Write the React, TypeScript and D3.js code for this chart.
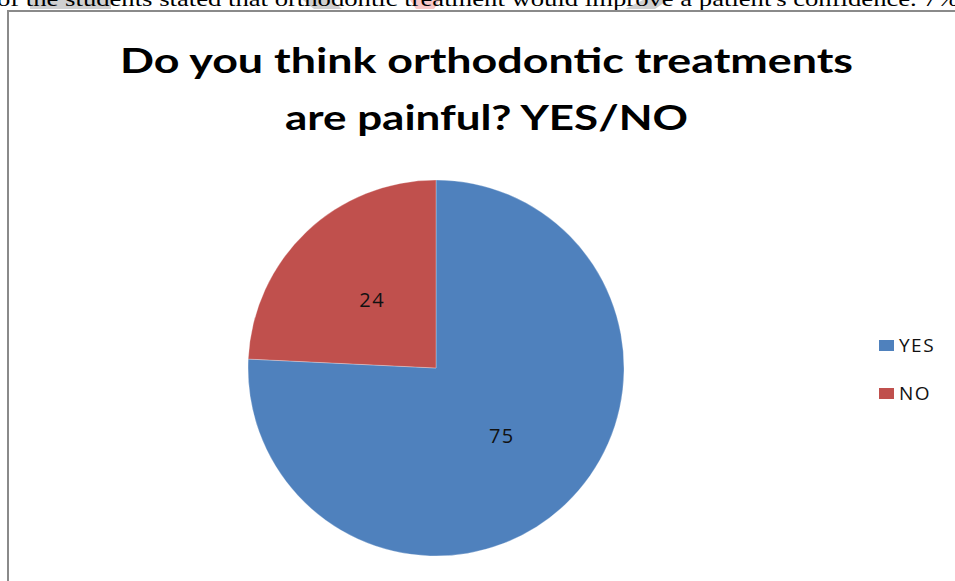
import React from "react";
import * as d3 from "d3";

const categories = ["YES", "NO"];
const values = [75, 24];
const colors = ["#4F81BD", "#C0504D"];
const titleLines = ["Do you think orthodontic treatments", "are painful? YES/NO"];
const bodyText = "of the students stated that orthodontic treatment would improve a patient's confidence. 7%";

const W = 955;
const H = 581;

export default function App() {
  const cx = 436;
  const cy = 368;
  const r = 188;
  const pie = d3.pie<number>().sort(null).value((d) => d)(values);
  const arc = d3.arc<d3.PieArcDatum<number>>().innerRadius(0).outerRadius(r);
  const labelArc = d3.arc<d3.PieArcDatum<number>>().innerRadius(0).outerRadius(r);
  const legendY = d3.scalePoint<string>().domain(categories).range([345.5, 393.5]);

  return (
    <svg
      width={W}
      height={H}
      style={{ position: "absolute", left: 0, top: 0, background: "#fff" }}
    >
      {/* highlight fragments behind the cut-off document text */}
      <rect x={30} y={0} width={81} height={9} fill="#d0d0d0" />
      <polygon points="303,0 332,0 342,9 314,9" fill="#d0d0d0" />
      <polygon points="410,0 440,0 434,9 416,9" fill="#f8c8c8" />
      <polygon points="643,0 668,0 655,9 625,9" fill="#d0d0d0" />
      <text
        x={-3}
        y={6}
        fontFamily="'Liberation Serif', 'Times New Roman', serif"
        fontSize={22}
        textLength={962}
        lengthAdjust="spacingAndGlyphs"
        fill="#000"
      >
        {bodyText}
      </text>

      {/* chart frame */}
      <line x1={7} y1={11} x2={W} y2={11} stroke="#8a8a8a" strokeWidth={2} />
      <line x1={8} y1={10} x2={8} y2={H} stroke="#8a8a8a" strokeWidth={2} />

      {/* title */}
      {titleLines.map((t, i) => (
        <text
          key={i}
          x={486.5}
          y={73 + i * 57}
          textAnchor="middle"
          fontFamily="Lato, 'Open Sans', sans-serif"
          fontWeight="bold"
          fontSize={35}
          textLength={i === 0 ? 733 : 403}
          lengthAdjust="spacingAndGlyphs"
          fill="#000"
        >
          {t}
        </text>
      ))}

      {/* pie */}
      <g transform={`translate(${cx},${cy})`}>
        {pie.map((p, i) => (
          <path key={i} d={arc(p) || ""} fill={colors[i]} stroke="#fff" strokeOpacity={0.35} strokeWidth={0.8} />
        ))}
        {pie.map((p, i) => {
          const [x, y] = labelArc.centroid(p);
          return (
            <text
              key={"l" + i}
              x={x + 1}
              y={y}
              dy="0.36em"
              textAnchor="middle"
              fontFamily="'Open Sans', sans-serif"
              fontSize={20}
              letterSpacing={1.5}
              fill="#111"
            >
              {values[i]}
            </text>
          );
        })}
      </g>

      {/* legend */}
      {categories.map((c, i) => {
        const y = legendY(c) as number;
        return (
          <g key={c}>
            <rect x={879} y={y - 5.5} width={15} height={11} fill={colors[i]} />
            <text
              x={899}
              y={y}
              dy="0.36em"
              fontFamily="'Open Sans', sans-serif"
              fontSize={19}
              letterSpacing={1.5}
              fill="#111"
            >
              {c}
            </text>
          </g>
        );
      })}
    </svg>
  );
}
